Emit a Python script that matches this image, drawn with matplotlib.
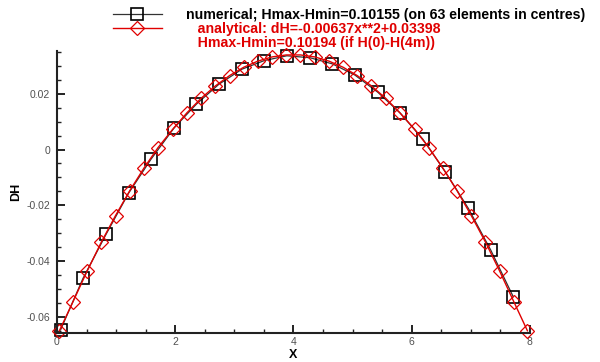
import matplotlib
matplotlib.use("Agg")
import matplotlib.pyplot as plt
from matplotlib.ticker import MultipleLocator, FuncFormatter

plt.rcParams['font.family'] = ['Liberation Sans', 'DejaVu Sans']
plt.rcParams['axes.unicode_minus'] = False

# numerical solution (every 3rd element centre)
x_num = [0.06, 0.44, 0.83, 1.21, 1.59, 1.98, 2.36, 2.74, 3.13, 3.51, 3.89,
         4.28, 4.66, 5.04, 5.43, 5.81, 6.19, 6.57, 6.96, 7.34, 7.72]
dh_num = [-0.0647, -0.0462, -0.0304, -0.0157, -0.0035, 0.0077, 0.0163,
          0.0234, 0.0288, 0.0319, 0.0336, 0.0329, 0.0307, 0.0267, 0.0205,
          0.0130, 0.0037, -0.0080, -0.0211, -0.0361, -0.0528]

# analytical solution
x_ana = [0.04, 0.27, 0.51, 0.75, 0.99, 1.23, 1.47, 1.71, 1.96, 2.20, 2.44,
         2.68, 2.92, 3.16, 3.40, 3.64, 3.88, 4.12, 4.36, 4.60, 4.84, 5.08,
         5.32, 5.56, 5.80, 6.05, 6.29, 6.53, 6.77, 7.01, 7.25, 7.49, 7.73, 7.96]
dh_ana = [-0.0650, -0.0546, -0.0436, -0.0332, -0.0237, -0.0148, -0.0067,
          0.0007, 0.0073, 0.0132, 0.0184, 0.0228, 0.0265, 0.0295, 0.0317,
          0.0332, 0.0339, 0.0339, 0.0332, 0.0317, 0.0295, 0.0265, 0.0228,
          0.0184, 0.0132, 0.0073, 0.0007, -0.0067, -0.0148, -0.0237,
          -0.0332, -0.0436, -0.0546, -0.0650]

lbl_num = "numerical; Hmax-Hmin=0.10155 (on 63 elements in centres)"
lbl_ana = "analytical: dH=-0.00637x**2+0.03398"
lbl_ana2 = "Hmax-Hmin=0.10194 (if H(0)-H(4m))"

red = '#e00000'

fig = plt.figure(figsize=(6, 3.62), dpi=100)
ax = fig.add_axes([0.095, 0.08, 0.788, 0.779])

h1, = ax.plot(x_num, dh_num, color='#333333', lw=0.9, marker='s', ms=8.5,
              mfc='none', mec='k', mew=1.2, clip_on=False)
h2, = ax.plot(x_ana, dh_ana, color=red, lw=1.0, marker='D', ms=7.5,
              mfc='none', mec=red, mew=0.9, clip_on=False)

ax.set_xlim(0, 8)
ax.set_ylim(-0.0658, 0.0353)

for s in ['top', 'right']:
    ax.spines[s].set_visible(False)
for s in ['left', 'bottom']:
    ax.spines[s].set_linewidth(1.5)
    ax.spines[s].set_color('#222222')

ax.xaxis.set_major_locator(MultipleLocator(2))
ax.xaxis.set_minor_locator(MultipleLocator(0.5))
ax.yaxis.set_major_locator(MultipleLocator(0.02))
ax.yaxis.set_minor_locator(MultipleLocator(0.005))
ax.yaxis.set_major_formatter(FuncFormatter(lambda v, p: '0' if abs(v) < 1e-9 else '%g' % v))
ax.tick_params(which='major', direction='in', length=6, width=1.4, color='#222222',
               labelsize=7.5, labelcolor='#505050')
ax.tick_params(which='minor', direction='in', length=3, width=1.0, color='#222222')
ax.tick_params(axis='x', pad=3)
ax.tick_params(axis='y', pad=5)

ax.set_xlabel('X', fontsize=9, fontweight='bold', labelpad=1)
ax.set_ylabel('DH', fontsize=9, fontweight='bold', labelpad=3)

blank, = ax.plot([], [], linestyle='none')
leg = fig.legend([h1, h2, blank], [lbl_num, '   ' + lbl_ana, '   ' + lbl_ana2],
                 loc='upper left', bbox_to_anchor=(0.188, 0.978), frameon=False,
                 prop={'weight': 'bold', 'size': 10.2},
                 handlelength=3.45, handletextpad=1.75, labelspacing=0.0,
                 borderpad=0, borderaxespad=0)
for t, c in zip(leg.get_texts(), ['k', red, red]):
    t.set_color(c)

fig.savefig('out.png', dpi=100)
